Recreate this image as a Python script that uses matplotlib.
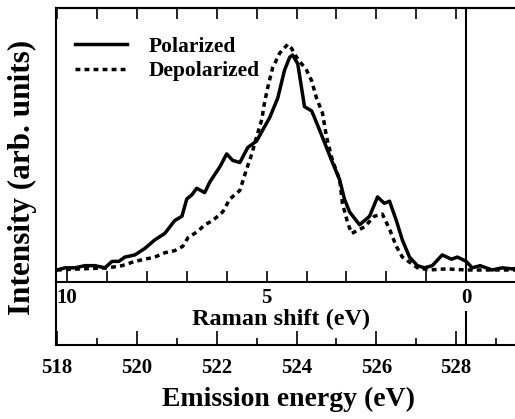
#!/usr/bin/env python3

import matplotlib
matplotlib.use("Agg")
import matplotlib.pyplot as plt
import numpy as np

plt.rcParams['font.family'] = ['Liberation Serif', 'DejaVu Serif']
plt.rcParams['font.weight'] = 'bold'
plt.rcParams['axes.labelweight'] = 'bold'
plt.rcParams['axes.linewidth'] = 1.5

E_INC = 528.25  # emission energy of the elastic line (Raman shift = 0)

# Polarized spectrum: emission energy (eV), intensity (arb. units)
pol_energy = [518.00, 518.20, 518.45, 518.70, 518.95, 519.20, 519.38, 519.55, 519.70, 519.95,
              520.20, 520.45, 520.70, 520.95, 521.13, 521.25, 521.38, 521.50, 521.70, 521.83,
              522.08, 522.25, 522.40, 522.58, 522.78, 523.00, 523.15, 523.33, 523.53, 523.70,
              523.83, 523.90, 524.03, 524.20, 524.38, 524.58, 524.75, 524.90, 525.08, 525.20,
              525.33, 525.58, 525.83, 526.03, 526.20, 526.33, 526.50, 526.65, 526.83, 527.03,
              527.20, 527.40, 527.65, 527.88, 528.03, 528.25, 528.40, 528.60, 528.90, 529.15,
              529.40, 529.70]
pol_int = [0.00, 0.01, 0.01, 0.02, 0.02, 0.01, 0.04, 0.04, 0.06, 0.07,
           0.10, 0.14, 0.17, 0.23, 0.25, 0.33, 0.35, 0.38, 0.36, 0.41,
           0.48, 0.54, 0.51, 0.50, 0.57, 0.60, 0.65, 0.71, 0.80, 0.93,
           0.99, 1.00, 0.96, 0.76, 0.74, 0.65, 0.57, 0.50, 0.42, 0.33,
           0.27, 0.21, 0.25, 0.34, 0.31, 0.32, 0.23, 0.14, 0.06, 0.02,
           0.01, 0.02, 0.07, 0.05, 0.06, 0.04, 0.01, 0.02, 0.00, 0.01,
           0.005, 0.01]

# Depolarized spectrum
dep_energy = [518.00, 518.60, 519.28, 519.63, 519.95, 520.20, 520.45, 520.70, 520.95, 521.15,
              521.28, 521.53, 521.70, 521.90, 522.15, 522.33, 522.58, 522.75, 522.88, 523.00,
              523.13, 523.20, 523.28, 523.40, 523.58, 523.78, 523.88, 524.00, 524.25, 524.38,
              524.50, 524.65, 524.75, 524.90, 525.08, 525.15, 525.28, 525.38, 525.70, 525.95,
              526.15, 526.33, 526.50, 526.65, 526.88, 527.03, 527.33, 527.75, 528.25, 528.83,
              529.70]
dep_int = [0.00, 0.005, 0.01, 0.02, 0.04, 0.05, 0.06, 0.08, 0.09, 0.11,
           0.15, 0.18, 0.21, 0.23, 0.27, 0.33, 0.37, 0.47, 0.54, 0.62,
           0.70, 0.78, 0.85, 0.94, 1.01, 1.05, 1.03, 0.99, 0.93, 0.88,
           0.80, 0.73, 0.62, 0.51, 0.42, 0.31, 0.22, 0.17, 0.20, 0.25,
           0.26, 0.19, 0.11, 0.06, 0.03, 0.01, 0.00, 0.005, 0.00, 0.00,
           0.00]

raman_ticks = np.arange(0, 11)
raman_labels = {10: "10", 5: "5", 0: "0"}
energy_major = [518, 520, 522, 524, 526, 528]
energy_minor = [519, 521, 523, 525, 527, 529]

W, H = 515, 419
fig = plt.figure(figsize=(W / 100, H / 100), dpi=100)

xlim = (517.975, 530.6)
x_left = 56 / W
width = (560 - 56) / W

# main spectrum panel
ax = fig.add_axes([x_left, (H - 282) / H, width, 274 / H])
ax.plot(pol_energy, pol_int, color='black', lw=2.5, label='Polarized')
ax.plot(dep_energy, dep_int, color='black', lw=2.5, linestyle=(0, (1.4, 1.2)), label='Depolarized')
ax.axvline(E_INC, color='black', lw=1.5)
ax.set_xlim(*xlim)
ax.set_ylim(-0.056, 1.219)
ax.set_yticks([])

ax.set_xticks([E_INC - r for r in raman_ticks])
ax.set_xticklabels([raman_labels.get(r, "") for r in raman_ticks], fontsize=15)
ax.tick_params(axis='x', direction='in', length=8, width=1.2, pad=4)

top = ax.secondary_xaxis('top')
top.set_xticks(np.arange(518, 529))
top.set_xticklabels([])
top.tick_params(direction='in', length=8, width=1.2)

ax.text(523.625, -0.23, "Raman shift (eV)", fontsize=17.5, ha='center', va='center',
        transform=ax.transData)
ax.set_ylabel("Intensity (arb. units)", fontsize=22.5)
ax.yaxis.set_label_coords(-0.037, 0.38)

leg = ax.legend(loc='upper left', frameon=False, fontsize=15.5, handlelength=2.4,
                handletextpad=1.0, labelspacing=0.2, bbox_to_anchor=(0.0, 0.965))

# emission energy axis panel
ax2 = fig.add_axes([x_left, (H - 345) / H, width, 63 / H])
ax2.patch.set_alpha(0)
ax2.spines['top'].set_visible(False)
ax2.spines['right'].set_visible(False)
ax2.set_xlim(*xlim)
ax2.set_ylim(0, 1)
ax2.set_yticks([])
ax2.set_xticks(energy_major)
ax2.set_xticklabels([str(e) for e in energy_major], fontsize=15)
ax2.set_xticks(energy_minor, minor=True)
ax2.tick_params(axis='x', which='major', direction='in', length=10, width=1.2, pad=9)
ax2.tick_params(axis='x', which='minor', direction='in', length=5, width=1.2)
ax2.axvline(E_INC, ymin=0, ymax=0.52, color='black', lw=1.5)
ax2.set_xlabel("Emission energy (eV)", fontsize=20)
ax2.xaxis.set_label_coords((288 - 56) / (560 - 56), -0.66)

fig.savefig("out.png", dpi=100)
